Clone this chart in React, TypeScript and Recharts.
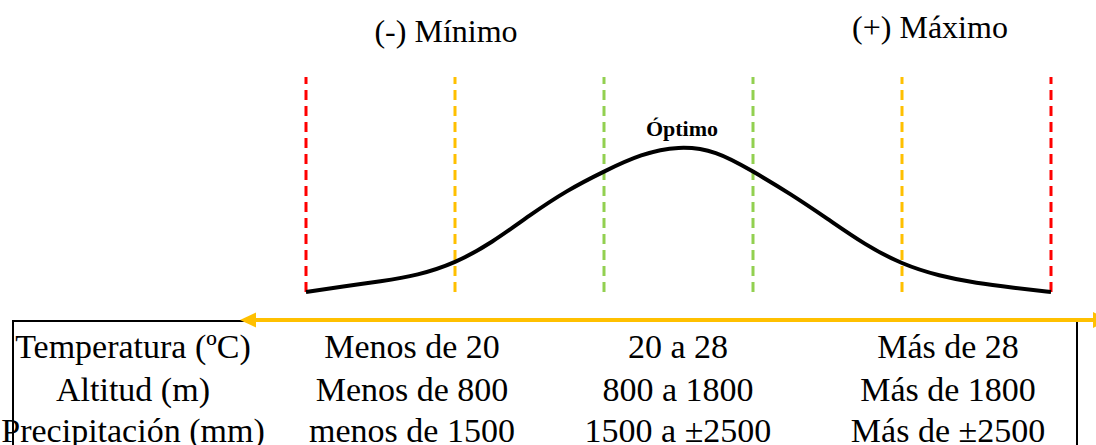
import React from 'react';
import { ComposedChart, Line, XAxis, YAxis, ReferenceLine, Customized } from 'recharts';

const curveX = [0, 0.25, 0.5, 0.75, 1, 1.25, 1.5, 1.75, 2, 2.25, 2.5, 2.75, 3, 3.25, 3.5, 3.75, 4, 4.25, 4.5, 4.75, 5];
const curveY = [0, 2.6, 5, 8.2, 14, 23.5, 35.5, 46.8, 56, 63.5, 67, 64.6, 56, 45.5, 34, 22.5, 13.5, 7.8, 4.3, 2, 0];

const boundaries = [0, 1, 2, 3, 4, 5];
const boundaryColors = ['#FF0000', '#FFC000', '#92D050', '#92D050', '#FFC000', '#FF0000'];

const rowLabels = ['Temperatura (ºC)', 'Altitud (m)', 'Precipitación (mm)'];
const lowValues = ['Menos de 20', 'Menos de 800', 'menos de 1500'];
const midValues = ['20 a 28', '800 a 1800', '1500 a ±2500'];
const highValues = ['Más de 28', 'Más de 1800', 'Más de ±2500'];
const minTitle = '(-) Mínimo';
const maxTitle = '(+) Máximo';
const optimumLabel = 'Óptimo';

const data = curveX.map((x, i) => ({ x, y: curveY[i] }));

const FONT = 'Liberation Serif, Times New Roman, DejaVu Serif, serif';
const ORANGE = '#FFC000';

const columns = [rowLabels, lowValues, midValues, highValues];
const columnCenters = [133, 412, 678, 948];
const rowBaselines = [358, 401, 442];

const txt = (size: number, bold = false): React.CSSProperties => ({
  fontFamily: FONT,
  fontSize: size,
  fontWeight: bold ? 'bold' : 'normal',
});

const Overlay = () => (
  <g>
    <text x={446} y={42} textAnchor="middle" style={txt(32)} fill="#000">{minTitle}</text>
    <text x={930} y={38} textAnchor="middle" style={txt(32)} fill="#000">{maxTitle}</text>
    <text x={682} y={136} textAnchor="middle" style={txt(22, true)} fill="#000">{optimumLabel}</text>
    <line x1={13} y1={321} x2={245} y2={321} stroke="#000" strokeWidth={2} />
    <line x1={13} y1={320} x2={13} y2={445} stroke="#000" strokeWidth={2} />
    <line x1={1077} y1={321} x2={1077} y2={445} stroke="#000" strokeWidth={2} />
    <line x1={250} y1={320} x2={1096} y2={320} stroke={ORANGE} strokeWidth={4} />
    <polygon points="240,320 256,312.5 256,327.5" fill={ORANGE} />
    <polygon points="1093,312 1108,320 1093,328" fill={ORANGE} />
    {columns.map((col, ci) =>
      col.map((t, ri) => (
        <text key={`${ci}-${ri}`} x={columnCenters[ci]} y={rowBaselines[ri]} textAnchor="middle" style={txt(34)} fill="#000">{t}</text>
      ))
    )}
  </g>
);

export default function App() {
  return (
    <div style={{ position: 'absolute', left: 0, top: 0, width: 1096, height: 445, background: '#fff' }}>
      <ComposedChart width={1096} height={445} data={data} margin={{ top: 77, right: 45, bottom: 153, left: 306 }}>
        <XAxis type="number" dataKey="x" domain={[0, 5]} hide />
        <YAxis type="number" domain={[0, 100]} hide />
        {boundaries.map((b, i) => (
          <ReferenceLine key={b} x={b} stroke={boundaryColors[i]} strokeWidth={3} strokeDasharray="10 6" />
        ))}
        <Line type="natural" dataKey="y" stroke="#000" strokeWidth={4} dot={false} isAnimationActive={false} />
        <Customized component={<Overlay />} />
      </ComposedChart>
    </div>
  );
}
